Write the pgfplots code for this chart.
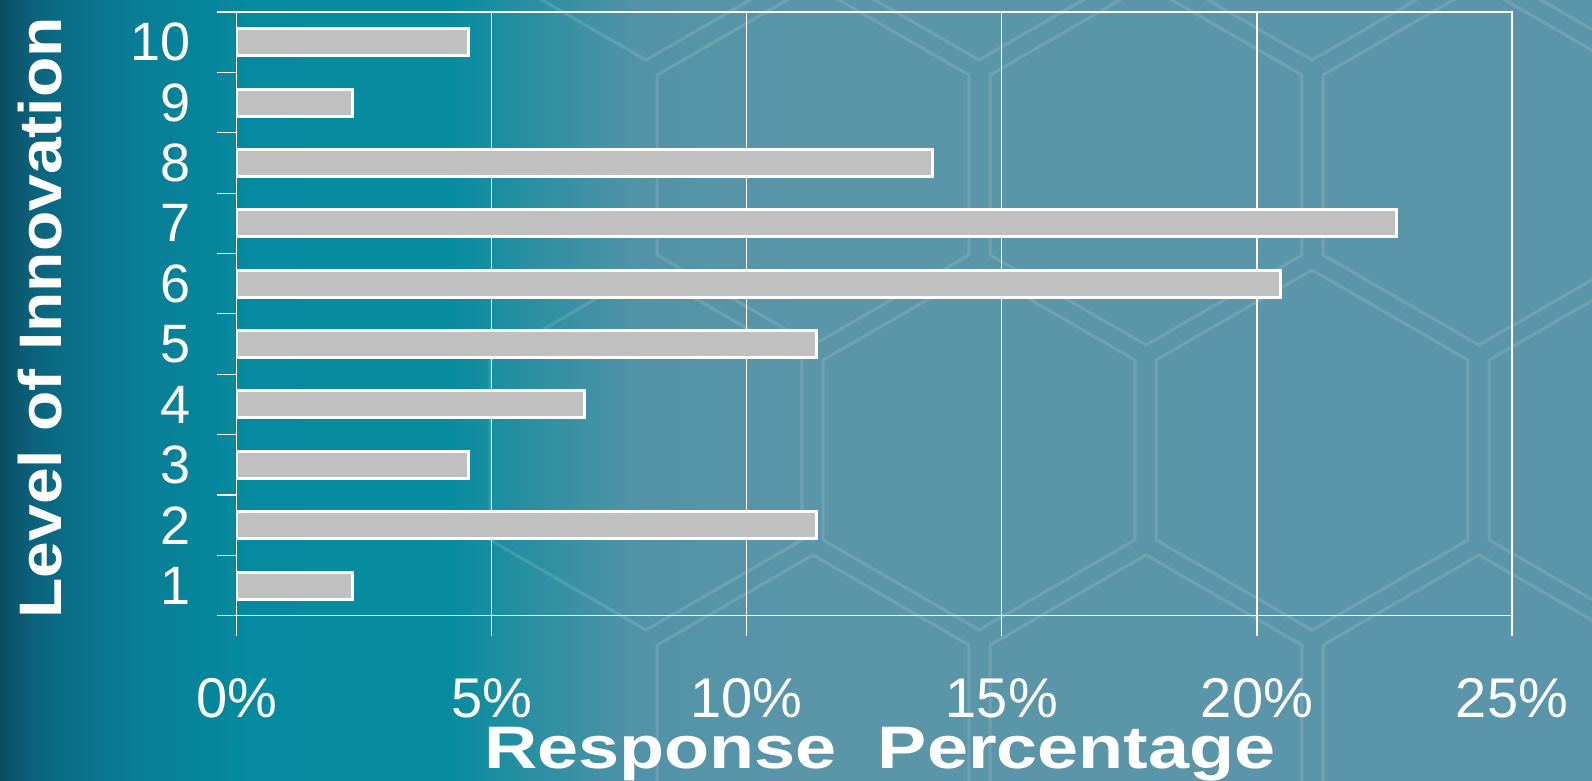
\documentclass[border=0pt]{standalone}
\usepackage{pgfplots}
\pgfplotsset{compat=1.18}
\usepackage{fontspec}
\setmainfont{Liberation Sans}
\newfontfamily\ylabfont{Liberation Sans}[FakeStretch=1.10]
\newfontfamily\xlabfont{Liberation Sans}[FakeStretch=1.23]

\definecolor{bg0}{HTML}{0A4D62}
\definecolor{bg1}{HTML}{0B6680}
\definecolor{bg2}{HTML}{097C94}
\definecolor{bg3}{HTML}{058A9F}
\definecolor{bg4}{HTML}{078C9F}
\definecolor{bg5}{HTML}{2A8FA2}
\definecolor{bg6}{HTML}{5393A7}
\definecolor{bg7}{HTML}{5A95A8}
\definecolor{bg8}{HTML}{5B95A9}
\definecolor{barfill}{HTML}{C0C0C0}

\pgfdeclarehorizontalshading{bgshade}{100bp}{color(0bp)=(bg0); color(25bp)=(bg0); color(26.26bp)=(bg1); color(28.77bp)=(bg2); color(32.85bp)=(bg3); color(39.13bp)=(bg4); color(41.65bp)=(bg5); color(45.1bp)=(bg6); color(50.13bp)=(bg7); color(75bp)=(bg8); color(100bp)=(bg8)}

\pgfplotstableread{
level pct
1 2.273
2 11.364
3 4.545
4 6.818
5 11.364
6 20.455
7 22.727
8 13.636
9 2.273
10 4.545
}\datatable

\begin{document}
\begin{tikzpicture}
\path[use as bounding box] (-118.3pt,-82.6pt) rectangle (677.7pt,307.9pt);
% background in pixel units (origin = top-left of picture)
\begin{scope}[shift={(-118.3pt,307.9pt)}, x=0.5pt, y=-0.5pt]
  \shade[shading=bgshade] (0,0) rectangle (1592,781);
  \foreach \cx/\cy in {646/-120, 979/-120, 1312/-120, 1645/-120,
                       813/165, 1146/165, 1479/165,
                       646/450, 979/450, 1312/450, 1645/450,
                       813/735, 1146/735, 1479/735}{
    \draw[white, opacity=0.12, line width=1.6pt, shift={(\cx,\cy)}]
      (30:180) -- (90:180) -- (150:180) -- (210:180) -- (270:180) -- (330:180) -- cycle;
  }
\end{scope}
\begin{axis}[
  at={(0,0)}, anchor=south west,
  scale only axis, width=637.7pt, height=301.9pt,
  xbar, bar width=13.5pt,
  xmin=0, xmax=25, ymin=0.5, ymax=10.5,
  xtick={0,5,10,15,20,25},
  xticklabels={0\%,5\%,10\%,15\%,20\%,25\%},
  ytick={0.5,1.5,...,10.5},
  yticklabels={1,2,3,4,5,6,7,8,9,10,{}},
  xtick pos=bottom, ytick pos=left,
  tick align=outside,
  major tick length=10pt,
  xmajorgrids,
  major grid style={white, line width=0.6pt},
  axis line style={white, line width=0.6pt},
  tick style={white, line width=0.6pt},
  ticklabel style={text=white, inner sep=0pt},
  xticklabel style={anchor=north, yshift=-21pt, font=\fontsize{28}{28}\selectfont},
  yticklabel style={anchor=east, xshift=-13pt, yshift=15.1pt, font=\fontsize{27}{27}\selectfont},
  xlabel={\xlabfont\bfseries Response\ \ Percentage},
  ylabel={\ylabfont\bfseries Level of Innovation},
  label style={text=white, font=\fontsize{30}{30}\selectfont, inner sep=0pt},
  xlabel style={at={(axis description cs:0.5045,-0.2534)}, anchor=base},
  ylabel style={at={(axis description cs:-0.154,-0.005)}, anchor=west, rotate=0},
]
\addplot[fill=barfill, draw=white, line width=1.5pt] table[x=pct, y=level] {\datatable};
\end{axis}
\end{tikzpicture}
\end{document}
